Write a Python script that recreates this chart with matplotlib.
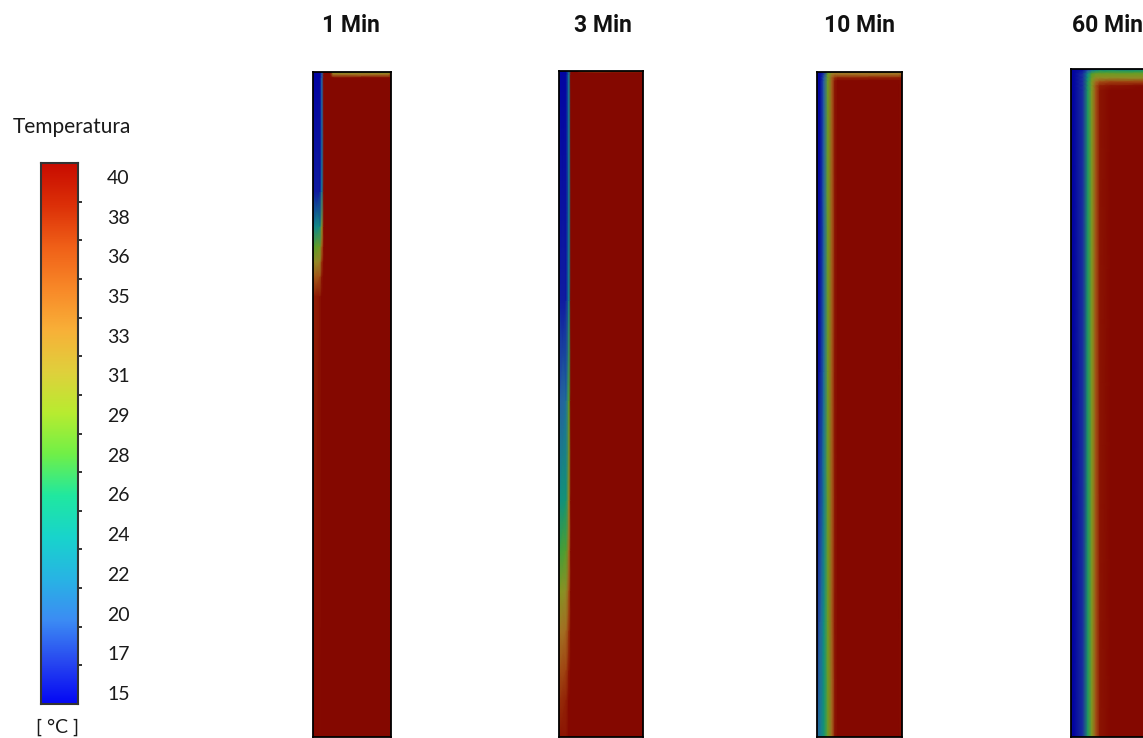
import numpy as np
import matplotlib
matplotlib.use('Agg')
import matplotlib.pyplot as plt
from matplotlib.colors import LinearSegmentedColormap, to_rgb

# colour scale, bottom (15) to top (40)
scale_labels = ['15', '17', '20', '22', '24', '26', '28', '29', '31', '33', '35', '36', '38', '40']
scale_colors = ['#0408f4', '#2848f0', '#3c8cf4', '#28b4e4', '#18d4cc', '#20e8a0', '#70f048',
                '#b8ec30', '#e0d03c', '#f8b038', '#f88828', '#f06018', '#dc3008', '#c80c00']
t_min, t_max = 15, 40

titles = ['1 Min', '3 Min', '10 Min', '60 Min']

# temperature fields: x and y in pixels from the top-left corner
x1 = [0, 7, 9, 11, 17, 20, 76, 78]
y1 = [0, 3, 6, 120, 155, 175, 190, 205, 225, 665]
T1 = [[15, 15, 19, 40, 40, 29, 29, 38],
      [15, 15, 19, 40, 40, 33, 33, 38],
      [15, 15, 19, 40, 40, 40, 40, 40],
      [16, 16, 21, 40, 40, 40, 40, 40],
      [22, 23, 30, 40, 40, 40, 40, 40],
      [27, 28, 34, 40, 40, 40, 40, 40],
      [30, 31, 37, 40, 40, 40, 40, 40],
      [34, 35, 39, 40, 40, 40, 40, 40],
      [38, 39, 40, 40, 40, 40, 40, 40],
      [40, 40, 40, 40, 40, 40, 40, 40]]

x2 = [0, 7, 10, 12, 18, 21, 82, 84]
y2 = [0, 2, 4, 230, 330, 430, 480, 520, 560, 600, 630, 666]
T2 = [[15, 15, 21, 40, 40, 30, 30, 35],
      [15, 15, 21, 40, 40, 40, 40, 40],
      [15, 15, 21, 40, 40, 40, 40, 40],
      [16, 16, 22, 40, 40, 40, 40, 40],
      [19, 20, 27, 40, 40, 40, 40, 40],
      [23, 24, 31, 40, 40, 40, 40, 40],
      [26, 27, 33, 40, 40, 40, 40, 40],
      [29, 30, 35, 40, 40, 40, 40, 40],
      [32, 33, 37, 40, 40, 40, 40, 40],
      [35, 36, 39, 40, 40, 40, 40, 40],
      [37, 38, 40, 40, 40, 40, 40, 40],
      [39, 39, 40, 40, 40, 40, 40, 40]]

x3 = [0, 3, 7, 11, 15, 18, 21, 82, 85]
y3 = [0, 3, 6, 9, 300, 550, 665]
T3 = [[15, 15, 17, 27, 30, 31, 31, 31, 33],
      [15, 15, 18, 28, 32, 33, 33, 33, 35],
      [15, 15, 19, 28, 34, 37, 38, 38, 39],
      [15, 15, 19, 28, 34, 39, 40, 40, 39],
      [15, 16, 20, 28, 34, 39, 40, 40, 39],
      [17, 19, 23, 28, 34, 39, 40, 40, 39],
      [19, 21, 24, 28, 33, 39, 40, 40, 39]]

x4 = [0, 3, 12, 17, 21, 25, 29, 40, 85]
y4 = [0, 2, 5, 9, 13, 17, 22, 668]
T4 = [[15, 15, 15, 16, 17, 18, 18, 18, 18],
      [15, 15, 16, 19, 22, 24, 25, 25, 25],
      [15, 15, 17, 23, 27, 28, 28, 28, 28],
      [15, 15, 17, 24, 28, 30, 30, 30, 30],
      [15, 15, 17, 25, 29, 33, 35, 36, 36],
      [15, 15, 17, 25, 29, 35, 38, 39, 40],
      [15, 15, 17, 25, 29, 35, 39, 40, 40],
      [15, 15, 17, 25, 29, 35, 39, 40, 40]]

fields = [(x1, y1, T1), (x2, y2, T2), (x3, y3, T3), (x4, y4, T4)]

W, H = 1143, 738
fig = plt.figure(figsize=(W / 100, H / 100), dpi=100)


def px_axes(left, top, right, bottom):
    return fig.add_axes([left / W, 1 - bottom / H, (right - left) / W, (bottom - top) / H])


bar_cmap = LinearSegmentedColormap.from_list('fluent', scale_colors)
# the rendered panels are a darker shade of the same scale
panel_cmap = LinearSegmentedColormap.from_list(
    'fluent_dark', [tuple(0.66 * c for c in to_rgb(col)) for col in scale_colors])

# colour bar
cax = px_axes(41, 163, 78, 704)
grad = np.linspace(0, 1, 256).reshape(-1, 1)
cax.imshow(grad, cmap=bar_cmap, origin='lower', aspect='auto', extent=[0, 1, 0, 14])
cax.set_xlim(0, 1)
cax.set_ylim(0, 14)
cax.set_xticks([])
cax.yaxis.tick_right()
cax.set_yticks(np.linspace(0.285, 13.64, len(scale_labels)))
cax.set_yticklabels(scale_labels, family='Lato', fontsize=14, color='#1a1a1a')
cax.set_yticks(np.arange(1, 14), minor=True)
cax.tick_params(axis='y', which='major', length=0, pad=21)
cax.tick_params(axis='y', which='minor', length=3, width=1.3, color='#222222', direction='out')
for s in cax.spines.values():
    s.set_color('#333333')
    s.set_linewidth(1.5)
fig.text(72 / W, 1 - 127 / H, 'Temperatura', family='Lato', fontsize=15,
         ha='center', va='center', color='#1a1a1a')
fig.text(58 / W, 1 - 727 / H, '[ °C ]', family='Lato', fontsize=14,
         ha='center', va='center', color='#1a1a1a')

# panels
boxes = [(313, 72, 391, 737), (559, 71, 643, 737), (817, 72, 902, 737), (1071, 69, 1156, 737)]
title_x = [351, 603, 860, 1107]
for (xs, ys, T), box, name, tx in zip(fields, boxes, titles, title_x):
    ax = px_axes(*box)
    ax.pcolormesh(xs, ys, np.array(T, dtype=float), shading='gouraud',
                  cmap=panel_cmap, vmin=t_min, vmax=t_max)
    ax.set_xlim(0, xs[-1])
    ax.set_ylim(ys[-1], 0)
    ax.set_xticks([])
    ax.set_yticks([])
    for s in ax.spines.values():
        s.set_color('black')
        s.set_linewidth(1.3)
    fig.text(tx / W, 1 - 25 / H, name, family='Roboto', fontweight='bold', fontsize=16.5,
             ha='center', va='center', color='#111111')

fig.savefig('out.png', dpi=100)
